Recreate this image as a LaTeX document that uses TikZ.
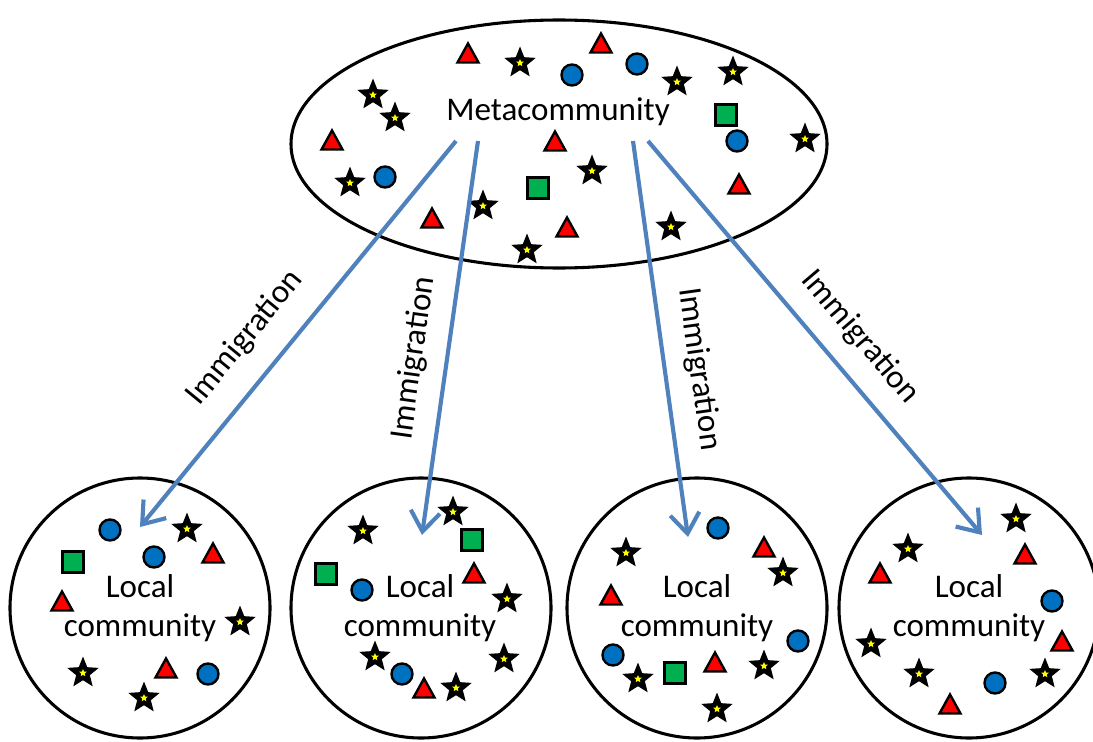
\documentclass[tikz,border=0pt]{standalone}
\usepackage{fontspec}
\setmainfont{Carlito}
\usetikzlibrary{arrows.meta,shapes.geometric}
\definecolor{arrowblue}{HTML}{4F81BD}
\definecolor{sred}{HTML}{FF0000}
\definecolor{sblue}{HTML}{0070C0}
\definecolor{sgreen}{HTML}{00B050}
\definecolor{syellow}{HTML}{FFFF00}
\tikzset{
  shapeline/.style={draw=black, line width=1.8pt},
  pics/sstar/.style={code={
    \fill[black] (-90:16.5) -- (-54:7.2) -- (-18:16.5) -- (18:7.2) -- (54:16.5) -- (90:7.2) -- (126:16.5) -- (162:7.2) -- (198:16.5) -- (234:7.2) -- cycle;
    \fill[syellow] (-90:4) -- (-54:1.8) -- (-18:4) -- (18:1.8) -- (54:4) -- (90:1.8) -- (126:4) -- (162:1.8) -- (198:4) -- (234:1.8) -- cycle;
  }},
  pics/stri/.style={code={\draw[shapeline, fill=sred] (0,-10.5) -- (10.5,8.5) -- (-10.5,8.5) -- cycle;}},
  pics/scirc/.style={code={\draw[shapeline, fill=sblue] (0,0) circle[radius=10.5];}},
  pics/ssq/.style={code={\draw[shapeline, fill=sgreen] (-10.5,-10.5) rectangle (10.5,10.5);}},
  bigring/.style={draw=black, line width=2.3pt, inner sep=0pt, outer sep=0pt},
  txt/.style={font=\fontsize{24.8}{30}\selectfont, inner sep=0pt, anchor=base},
  lbl/.style={font=\fontsize{24.8}{30}\selectfont, inner sep=0pt},
  flow/.style={draw=arrowblue, line width=3.1pt, -{Straight Barb[length=15pt,width=22pt]}},
}
\begin{document}
\begin{tikzpicture}[x=0.75pt, y=-0.75pt]
\useasboundingbox (0,0) rectangle (1093,742);
% containers
\node[bigring, ellipse, minimum width=402pt, minimum height=186pt] (meta) at (559,144) {};
\node[bigring, circle, minimum size=195pt] (loc1) at (140,608) {};
\node[bigring, circle, minimum size=195pt] (loc2) at (421,608) {};
\node[bigring, circle, minimum size=195pt] (loc3) at (697,608) {};
\node[bigring, circle, minimum size=195pt] (loc4) at (969,608) {};
% texts
\node[txt] (metatxt) at (558,121) {Metacommunity};
\node[txt] (t1a) at (140,597.7) {Local};
\node[txt] (t1b) at (140,636.7) {community};
\node[txt] (t2a) at (420,597.7) {Local};
\node[txt] (t2b) at (420,636.7) {community};
\node[txt] (t3a) at (697,597.7) {Local};
\node[txt] (t3b) at (697,636.7) {community};
\node[txt] (t4a) at (969,597.7) {Local};
\node[txt] (t4b) at (969,636.7) {community};
% metacommunity individuals
\pic at (468,54) {stri};
\pic at (520,63) {sstar};
\pic at (572,75) {scirc};
\pic at (601,44) {stri};
\pic at (637,64) {scirc};
\pic at (677,82) {sstar};
\pic at (733,72) {sstar};
\pic at (373,95) {sstar};
\pic at (395,118) {sstar};
\pic at (726,115) {ssq};
\pic at (737,141) {scirc};
\pic at (805,139) {sstar};
\pic at (332,141) {stri};
\pic at (555,142) {stri};
\pic at (592,171) {sstar};
\pic at (350,183) {sstar};
\pic at (385,177) {scirc};
\pic at (538,188) {ssq};
\pic at (739,185) {stri};
\pic at (483,206) {sstar};
\pic at (432,219) {stri};
\pic at (567,228) {stri};
\pic at (527,250) {sstar};
\pic at (671,227) {sstar};
% local community 1
\pic at (110,530) {scirc};
\pic at (187,529) {sstar};
\pic at (73,562) {ssq};
\pic at (154,557) {scirc};
\pic at (213,554) {stri};
\pic at (62,602) {stri};
\pic at (240,622) {sstar};
\pic at (83,673) {sstar};
\pic at (166,669) {stri};
\pic at (208,674) {scirc};
\pic at (144,698) {sstar};
% local community 2
\pic at (363,531) {sstar};
\pic at (453,512) {sstar};
\pic at (472,540) {ssq};
\pic at (326,574) {ssq};
\pic at (362,590) {scirc};
\pic at (474,574) {stri};
\pic at (507,599) {sstar};
\pic at (375,657) {sstar};
\pic at (402,674) {scirc};
\pic at (424,689) {stri};
\pic at (456,688) {sstar};
\pic at (504,659) {sstar};
% local community 3
\pic at (718,528) {scirc};
\pic at (764,548) {stri};
\pic at (626,553) {sstar};
\pic at (783,573) {sstar};
\pic at (611,596) {stri};
\pic at (798,641) {scirc};
\pic at (613,655) {scirc};
\pic at (638,679) {sstar};
\pic at (675,673) {ssq};
\pic at (715,663) {stri};
\pic at (764,666) {sstar};
\pic at (717,709) {sstar};
% local community 4
\pic at (1016,519) {sstar};
\pic at (1025,555) {stri};
\pic at (908,549) {sstar};
\pic at (880,574) {stri};
\pic at (1052,601) {scirc};
\pic at (871,644) {sstar};
\pic at (1062,642) {stri};
\pic at (919,674) {sstar};
\pic at (995,683) {scirc};
\pic at (1045,674) {sstar};
\pic at (950,705) {stri};
% immigration arrows
\coordinate (a1s) at (456,141); \coordinate (a1e) at (140,527);
\coordinate (a2s) at (478,141); \coordinate (a2e) at (422,535);
\coordinate (a3s) at (633,141); \coordinate (a3e) at (688,537);
\coordinate (a4s) at (648,141); \coordinate (a4e) at (982,535);
\draw[flow] (a1s) -- (a1e);
\draw[flow] (a2s) -- (a2e);
\draw[flow] (a3s) -- (a3e);
\draw[flow] (a4s) -- (a4e);
\node[lbl, rotate=50.7] (l1) at (245,338) {Immigration};
\node[lbl, rotate=82] (l2) at (414,358) {Immigration};
\node[lbl, rotate=-82] (l3) at (699,369) {Immigration};
\node[lbl, rotate=-49.7] (l4) at (860,337) {Immigration};
\end{tikzpicture}
\end{document}
